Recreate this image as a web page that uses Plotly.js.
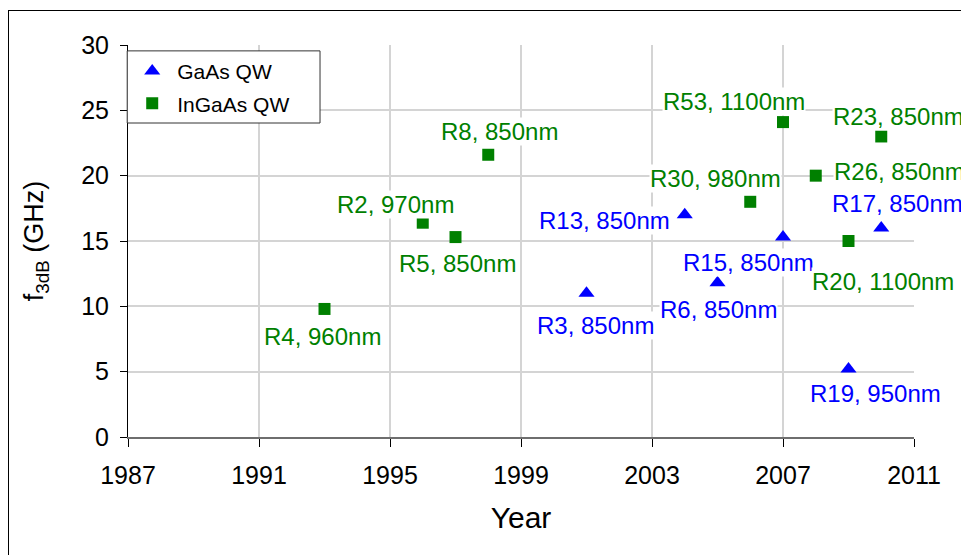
<!DOCTYPE html>
<html>
<head>
<meta charset="utf-8">
<script src="https://cdn.plot.ly/plotly-3.0.1.min.js"></script>
<style>
  html, body { margin: 0; padding: 0; background: #fff; }
  #wrap { position: relative; width: 961px; height: 555px; overflow: hidden; }
  #chart { width: 961px; height: 555px; }
  #frame { position: absolute; left: 8px; top: 10px; width: 1000px; height: 600px;
           border-left: 1.5px solid #000; border-top: 1.5px solid #000; pointer-events: none; }
</style>
</head>
<body>
<div id="wrap">
  <div id="chart"></div>
  <div id="frame"></div>
</div>
<script>
// ---- data ----
const gaasYear  = [2001, 2004, 2005, 2007, 2009, 2010];
const gaasF3dB  = [11.0, 17.0, 11.8, 15.3, 5.2, 16.0];
const gaasLabel = ['R3, 850nm', 'R13, 850nm', 'R6, 850nm', 'R15, 850nm', 'R19, 950nm', 'R17, 850nm'];

const ingaasYear  = [1993, 1996, 1997, 1998, 2006, 2007, 2008, 2009, 2010];
const ingaasF3dB  = [9.8, 16.4, 15.3, 21.6, 18.0, 24.1, 20.0, 15.0, 23.0];
const ingaasLabel = ['R4, 960nm', 'R2, 970nm', 'R5, 850nm', 'R8, 850nm', 'R30, 980nm',
                     'R53, 1100nm', 'R26, 850nm', 'R20, 1100nm', 'R23, 850nm'];

const xTicks = [1987, 1991, 1995, 1999, 2003, 2007, 2011];
const yTicks = [0, 5, 10, 15, 20, 25, 30];

// ---- label placement (pixel offsets, style only) ----
const gaasShift   = [[9, 32], [-80, 6], [1, 27], [-35, 25], [27, 24], [16, -24]];
const ingaasShift = [[-2, 28], [-27, -18], [2, 26], [11, -23], [-35, -23],
                     [-49, -21], [84, -4], [34, 40], [17, -20]];

const BLUE = '#0000ff', GREEN = '#008000';
const FONT = 'Liberation Sans, Arial, sans-serif';

const traces = [
  { type: 'scatter', mode: 'markers', name: 'GaAs QW', legendgroup: 'a',
    x: gaasYear, y: gaasF3dB,
    marker: { symbol: 'triangle-up', size: 14, color: BLUE } },
  { type: 'scatter', mode: 'markers', name: 'InGaAs QW', legendgroup: 'b',
    x: ingaasYear, y: ingaasF3dB,
    marker: { symbol: 'square', size: 12, color: GREEN } }
];

function labels(xs, ys, texts, shifts, color) {
  return texts.map((t, i) => ({
    x: xs[i], y: ys[i], xref: 'x', yref: 'y', text: t, showarrow: false,
    xanchor: 'center', yanchor: 'middle',
    xshift: shifts[i][0], yshift: -shifts[i][1],
    bgcolor: '#ffffff', borderpad: 0,
    font: { family: FONT, size: 24, color: color }
  }));
}

const annotations = [].concat(
  labels(gaasYear, gaasF3dB, gaasLabel, gaasShift, BLUE),
  labels(ingaasYear, ingaasF3dB, ingaasLabel, ingaasShift, GREEN)
);

const layout = {
  width: 961, height: 555,
  margin: { l: 128, r: 47, t: 45, b: 118 },
  paper_bgcolor: '#ffffff', plot_bgcolor: '#ffffff',
  font: { family: FONT, color: '#000' },
  showlegend: true,
  legend: {
    x: -0.001, y: 0.985, xanchor: 'left', yanchor: 'top',
    bgcolor: 'rgba(0,0,0,0)', borderwidth: 0,
    font: { family: FONT, size: 21, color: '#000' },
    tracegroupgap: 2, itemwidth: 40
  },
  // legend frame (wider than Plotly's auto box, as in the reference)
  shapes: [{
    type: 'rect', xref: 'paper', yref: 'paper', layer: 'above',
    x0: -0.001, x1: 0.2443, y0: 0.801, y1: 0.985,
    fillcolor: '#ffffff', line: { color: '#333333', width: 1 }
  }],
  xaxis: {
    range: [1987, 2011], tickvals: xTicks, ticktext: xTicks.map(String),
    showgrid: true, gridcolor: '#d4d4d4', gridwidth: 2,
    showline: true, linecolor: '#6e6e6e', linewidth: 2,
    ticks: 'outside', ticklen: 8, tickcolor: '#000', tickwidth: 1,
    ticklabelstandoff: 7,
    zeroline: false,
    tickfont: { family: FONT, size: 25, color: '#000' },
    title: { text: 'Year', font: { family: FONT, size: 30, color: '#000' }, standoff: 19 }
  },
  yaxis: {
    range: [0, 30], tickvals: yTicks, ticktext: yTicks.map(String),
    showgrid: true, gridcolor: '#d4d4d4', gridwidth: 2,
    showline: true, linecolor: '#000', linewidth: 1,
    ticks: 'outside', ticklen: 7, tickcolor: '#000', tickwidth: 1,
    ticklabelstandoff: 6,
    zeroline: false,
    tickfont: { family: FONT, size: 25, color: '#000' },
    title: { text: 'f<sub>3dB</sub> (GHz)', font: { family: FONT, size: 27, color: '#000' }, standoff: 29 }
  },
  annotations: annotations
};

Plotly.newPlot('chart', traces, layout, { displayModeBar: false, staticPlot: true });
</script>
</body>
</html>
